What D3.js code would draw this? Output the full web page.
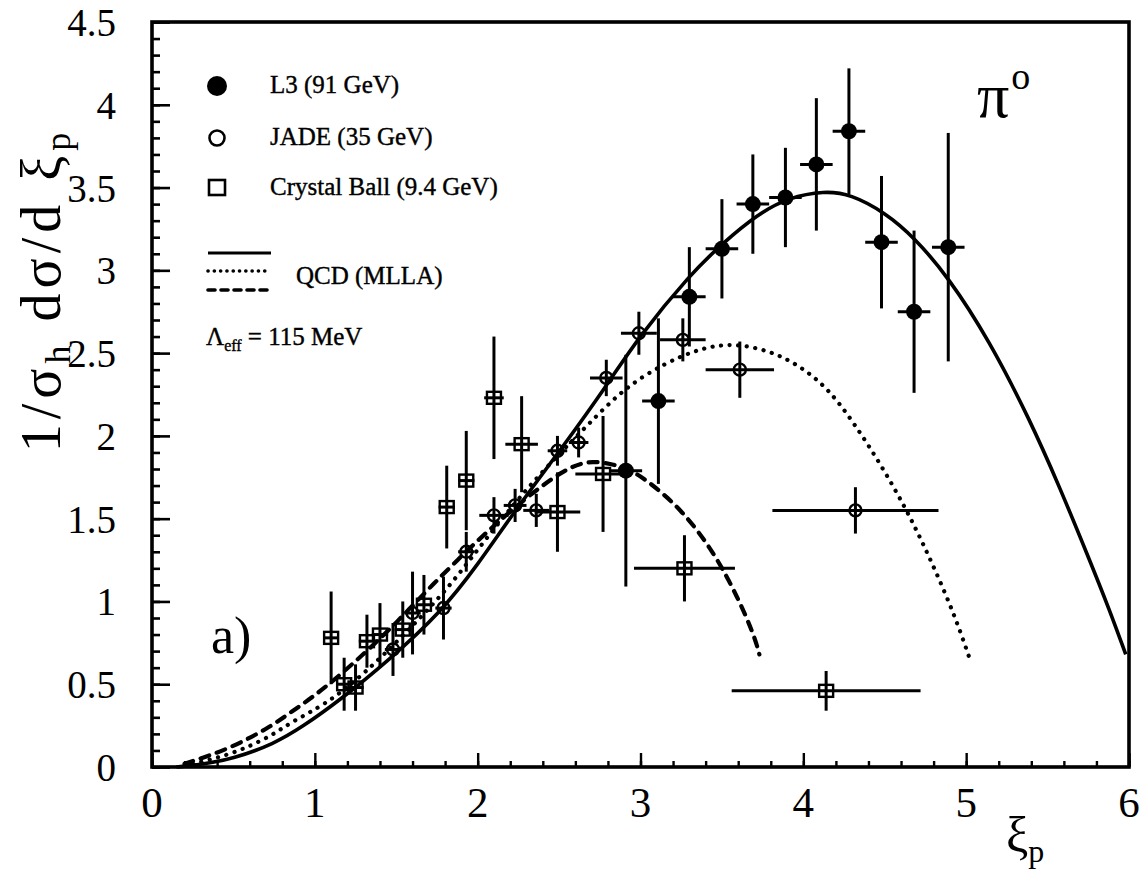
<!DOCTYPE html>
<html>
<head>
<meta charset="utf-8">
<script src="https://cdn.jsdelivr.net/npm/d3@7"></script>
<style>
  html, body { margin: 0; padding: 0; background: #fff; }
  svg { display: block; }
  text { font-family: "Liberation Serif", "DejaVu Serif", serif; fill: #000; }
</style>
</head>
<body>
<svg id="chart" width="1143" height="876"></svg>
<script>
// ---------------- DATA ----------------
// L3 (91 GeV) – filled circles
const l3X    = [2.91, 3.11, 3.30, 3.50, 3.69, 3.89, 4.08, 4.28, 4.48, 4.68, 4.89];
const l3Y    = [1.79, 2.21, 2.84, 3.13, 3.40, 3.44, 3.64, 3.84, 3.17, 2.75, 3.14];
const l3XErr = [0.10, 0.10, 0.10, 0.10, 0.10, 0.10, 0.10, 0.10, 0.10, 0.10, 0.10];
const l3YErr = [0.70, 0.50, 0.30, 0.30, 0.30, 0.30, 0.40, 0.38, 0.40, 0.49, 0.69];

// JADE (35 GeV) – open circles
const jadeX    = [1.48, 1.60, 1.79, 1.93, 2.10, 2.23, 2.36, 2.49, 2.62, 2.79, 2.99, 3.26, 3.61, 4.32];
const jadeY    = [0.71, 0.93, 0.96, 1.30, 1.52, 1.58, 1.55, 1.91, 1.96, 2.35, 2.62, 2.58, 2.40, 1.55];
const jadeXErr = [0.05, 0.05, 0.05, 0.05, 0.09, 0.07, 0.08, 0.06, 0.06, 0.10, 0.11, 0.14, 0.21, 0.51];
const jadeYErr = [0.16, 0.25, 0.19, 0.12, 0.11, 0.10, 0.10, 0.09, 0.09, 0.11, 0.13, 0.13, 0.17, 0.14];

// Crystal Ball (9.4 GeV) – open squares
const cbX    = [1.10, 1.18, 1.25, 1.32, 1.40, 1.54, 1.67, 1.81, 1.93, 2.10, 2.27, 2.49, 2.77, 3.27, 4.14];
const cbY    = [0.78, 0.50, 0.48, 0.76, 0.80, 0.83, 0.98, 1.57, 1.73, 2.23, 1.95, 1.54, 1.77, 1.20, 0.46];
const cbXErr = [0.04, 0.05, 0.05, 0.05, 0.05, 0.05, 0.05, 0.05, 0.05, 0.06, 0.10, 0.14, 0.17, 0.31, 0.58];
const cbYErr = [0.28, 0.16, 0.14, 0.16, 0.19, 0.17, 0.18, 0.25, 0.30, 0.37, 0.29, 0.24, 0.35, 0.20, 0.12];

// QCD (MLLA) curves
const qcd91X = [0.15, 0.30, 0.50, 0.75, 0.92, 1.15, 1.46, 1.77, 2.00, 2.23, 2.52, 2.79, 2.99, 3.31, 3.50, 3.72, 3.91, 4.13, 4.29, 4.50, 4.68, 4.89, 5.14, 5.39, 5.57, 5.75, 5.88, 5.98];
const qcd91Y = [0.00, 0.015, 0.05, 0.14, 0.24, 0.40, 0.65, 0.93, 1.22, 1.55, 1.93, 2.30, 2.60, 2.98, 3.16, 3.34, 3.44, 3.48, 3.46, 3.35, 3.20, 2.96, 2.58, 2.10, 1.70, 1.27, 0.95, 0.68];

const qcd35X = [0.20, 0.48, 0.74, 0.85, 1.07, 1.30, 1.55, 1.83, 2.05, 2.30, 2.50, 2.67, 2.90, 3.15, 3.37, 3.56, 3.78, 3.97, 4.15, 4.31, 4.48, 4.63, 4.74, 4.85, 4.95, 5.03];
const qcd35Y = [0.01, 0.07, 0.19, 0.27, 0.38, 0.56, 0.80, 1.09, 1.38, 1.68, 1.89, 2.06, 2.29, 2.44, 2.53, 2.56, 2.52, 2.43, 2.29, 2.08, 1.82, 1.56, 1.34, 1.10, 0.86, 0.63];

const qcd94X = [0.20, 0.48, 0.74, 0.85, 1.03, 1.30, 1.50, 1.72, 2.00, 2.25, 2.53, 2.70, 2.91, 3.03, 3.25, 3.45, 3.60, 3.70, 3.73];
const qcd94Y = [0.02, 0.11, 0.25, 0.33, 0.45, 0.68, 0.87, 1.10, 1.37, 1.59, 1.80, 1.86, 1.81, 1.74, 1.56, 1.30, 1.02, 0.79, 0.68];

// axis ticks
const xTickValues = [0, 1, 2, 3, 4, 5, 6];
const xTickLabels = ["0", "1", "2", "3", "4", "5", "6"];
const yTickValues = [0, 0.5, 1, 1.5, 2, 2.5, 3, 3.5, 4, 4.5];
const yTickLabels = ["0", "0.5", "1", "1.5", "2", "2.5", "3", "3.5", "4", "4.5"];

// legend entries
const legendLabels = ["L3 (91 GeV)", "JADE (35 GeV)", "Crystal Ball (9.4 GeV)"];

// ---------------- DRAWING ----------------
const svg = d3.select("#chart");
const W = 1143, H = 876;
const margin = { left: 152, right: 14, top: 22, bottom: 109 };

const x = d3.scaleLinear().domain([0, 6]).range([margin.left, W - margin.right]);
const y = d3.scaleLinear().domain([0, 4.5]).range([H - margin.bottom, margin.top]);

const ink = "#000";

// frame
svg.append("rect")
  .attr("x", x(0)).attr("y", y(4.5))
  .attr("width", x(6) - x(0)).attr("height", y(0) - y(4.5))
  .attr("fill", "none").attr("stroke", ink).attr("stroke-width", 3.6);

// y-axis (inward ticks)
const yMinor = d3.range(0, 4.5001, 0.1).map(v => +v.toFixed(2));
const yAxisMinor = d3.axisRight(y).tickValues(yMinor).tickSize(8).tickFormat("");
const gyMinor = svg.append("g").attr("transform", `translate(${x(0)},0)`).call(yAxisMinor);
const yAxisMajor = d3.axisRight(y).tickValues(yTickValues).tickSize(18).tickFormat("");
const gyMajor = svg.append("g").attr("transform", `translate(${x(0)},0)`).call(yAxisMajor);
[gyMinor, gyMajor].forEach(g => {
  g.select(".domain").remove();
  g.selectAll("line").attr("stroke", ink).attr("stroke-width", 2.6);
});
// y tick labels
svg.append("g").selectAll("text").data(yTickValues).join("text")
  .attr("x", 116).attr("y", d => y(d))
  .attr("dy", "0.36em")
  .attr("text-anchor", "end")
  .attr("font-size", 39)
  .text((d, i) => yTickLabels[i]);

// x-axis (inward ticks)
const xMinor = d3.range(0, 6.0001, 0.2).map(v => +v.toFixed(2));
const xAxisMinor = d3.axisTop(x).tickValues(xMinor).tickSize(6).tickFormat("");
const gxMinor = svg.append("g").attr("transform", `translate(0,${y(0)})`).call(xAxisMinor);
const xAxisMajor = d3.axisTop(x).tickValues(xTickValues).tickSize(14).tickFormat("");
const gxMajor = svg.append("g").attr("transform", `translate(0,${y(0)})`).call(xAxisMajor);
[gxMinor, gxMajor].forEach(g => {
  g.select(".domain").remove();
  g.selectAll("line").attr("stroke", ink).attr("stroke-width", 2.4);
});
svg.append("g").selectAll("text").data(xTickValues).join("text")
  .attr("x", d => x(d)).attr("y", 817)
  .attr("text-anchor", "middle")
  .attr("font-size", 43)
  .text((d, i) => xTickLabels[i]);

// axis titles
const yTitle = svg.append("text")
  .attr("transform", "translate(60,290) rotate(-90)")
  .attr("text-anchor", "middle")
  .attr("font-size", 56)
  .attr("letter-spacing", 5);
yTitle.append("tspan").text("1/σ");
yTitle.append("tspan").attr("font-size", 36).attr("dy", 10).text("h");
yTitle.append("tspan").attr("dy", -10).text(" dσ/d ξ");
yTitle.append("tspan").attr("font-size", 36).attr("dy", 10).text("p");

const xTitle = svg.append("text").attr("x", 1006).attr("y", 852).attr("font-size", 50);
xTitle.append("tspan").text("ξ");
xTitle.append("tspan").attr("font-size", 32).attr("dy", 10).text("p");

// labels inside plot
svg.append("text").attr("x", 211).attr("y", 653).attr("font-size", 52).text("a)");
const pi = svg.append("text").attr("x", 977).attr("y", 117).attr("font-size", 64);
pi.append("tspan").text("π");
pi.append("tspan").attr("font-size", 38).attr("dy", -28).attr("dx", 2).text("o");

// curves
const line = d3.line().x(d => x(d[0])).y(d => y(d[1])).curve(d3.curveBasis);
const curves = [
  { xs: qcd91X, ys: qcd91Y, dash: null, cap: "butt" },
  { xs: qcd35X, ys: qcd35Y, dash: "0.1 8.5", cap: "round" },
  { xs: qcd94X, ys: qcd94Y, dash: "9 8", cap: "round" }
];
curves.forEach(c => {
  svg.append("path")
    .datum(c.xs.map((v, i) => [v, c.ys[i]]))
    .attr("d", line)
    .attr("fill", "none")
    .attr("stroke", ink)
    .attr("stroke-width", c.dash ? 4.2 : 3.6)
    .attr("stroke-linecap", c.cap)
    .attr("stroke-dasharray", c.dash);
});

// error bars + markers
function drawSeries(xs, ys, xe, ye, kind) {
  const g = svg.append("g");
  const pts = xs.map((v, i) => ({ x: v, y: ys[i], xe: xe[i], ye: ye[i] }));
  g.selectAll("line.v").data(pts).join("line")
    .attr("x1", d => x(d.x)).attr("x2", d => x(d.x))
    .attr("y1", d => y(d.y - d.ye)).attr("y2", d => y(d.y + d.ye))
    .attr("stroke", ink).attr("stroke-width", 3);
  g.selectAll("line.h").data(pts).join("line")
    .attr("x1", d => x(d.x - d.xe)).attr("x2", d => x(d.x + d.xe))
    .attr("y1", d => y(d.y)).attr("y2", d => y(d.y))
    .attr("stroke", ink).attr("stroke-width", 3);
  if (kind === "filled") {
    g.selectAll("circle").data(pts).join("circle")
      .attr("cx", d => x(d.x)).attr("cy", d => y(d.y)).attr("r", 8)
      .attr("fill", ink);
  } else if (kind === "open") {
    g.selectAll("circle").data(pts).join("circle")
      .attr("cx", d => x(d.x)).attr("cy", d => y(d.y)).attr("r", 6)
      .attr("fill", "none").attr("stroke", ink).attr("stroke-width", 2.4);
  } else {
    g.selectAll("rect").data(pts).join("rect")
      .attr("x", d => x(d.x) - 7).attr("y", d => y(d.y) - 6)
      .attr("width", 14).attr("height", 12)
      .attr("fill", "none").attr("stroke", ink).attr("stroke-width", 2.4);
  }
}
drawSeries(cbX, cbY, cbXErr, cbYErr, "square");
drawSeries(jadeX, jadeY, jadeXErr, jadeYErr, "open");
drawSeries(l3X, l3Y, l3XErr, l3YErr, "filled");

// legend
const leg = svg.append("g");
const legY = [92, 144, 194];
leg.append("circle").attr("cx", 217).attr("cy", 86).attr("r", 10).attr("fill", ink);
leg.append("circle").attr("cx", 217).attr("cy", 138).attr("r", 7.5).attr("fill", "none").attr("stroke", ink).attr("stroke-width", 2.6);
leg.append("rect").attr("x", 209).attr("y", 180).attr("width", 16).attr("height", 15).attr("fill", "none").attr("stroke", ink).attr("stroke-width", 2.6);
legendLabels.forEach((t, i) => {
  leg.append("text").attr("x", 270).attr("y", legY[i] + 1).attr("font-size", 25)
    .attr("stroke", ink).attr("stroke-width", 0.4).text(t);
});
// line styles in legend
[[253, null, "butt"], [271, "0.1 6.2", "round"], [290, "7 6", "round"]].forEach(([yy, dash, cap]) => {
  leg.append("line").attr("x1", 208).attr("x2", 271).attr("y1", yy).attr("y2", yy)
    .attr("stroke", ink).attr("stroke-width", dash ? 3.6 : 3.2)
    .attr("stroke-linecap", cap).attr("stroke-dasharray", dash);
});
leg.append("text").attr("x", 296).attr("y", 284).attr("font-size", 25)
  .attr("stroke", ink).attr("stroke-width", 0.4).text("QCD (MLLA)");
const lam = leg.append("text").attr("x", 206).attr("y", 345).attr("font-size", 25)
  .attr("stroke", ink).attr("stroke-width", 0.4);
lam.append("tspan").text("Λ");
lam.append("tspan").attr("font-size", 16).attr("dy", 6).text("eff");
lam.append("tspan").attr("dy", -6).text(" = 115 MeV");
</script>
</body>
</html>
